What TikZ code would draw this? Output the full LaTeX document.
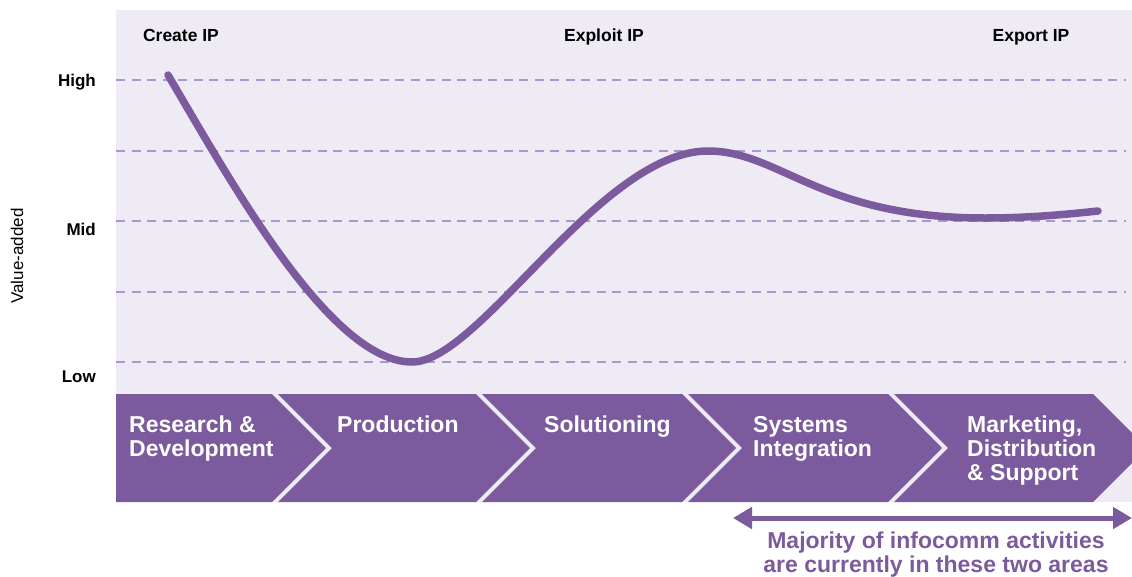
\documentclass[tikz,border=0pt]{standalone}
\usepackage{fontspec}
\setmainfont{Liberation Sans}
\usetikzlibrary{arrows.meta}
\definecolor{vpurple}{HTML}{7B5B9E}
\definecolor{panelbg}{HTML}{EFEBF4}
\definecolor{gridc}{HTML}{AC96CE}
\tikzset{
  gridline/.style={gridc, line width=1.1pt, dash pattern=on 9pt off 6.5pt},
  chevron/.style={fill=vpurple},
  steplabel/.style={text=white, font=\fontsize{23}{24}\selectfont\bfseries, align=left, anchor=base west, inner sep=0pt},
  phaselabel/.style={font=\fontsize{17.5}{20}\selectfont\bfseries, anchor=base, inner sep=0pt},
  levellabel/.style={font=\fontsize{17}{20}\selectfont\bfseries, anchor=east, inner sep=0pt},
  curve/.style={vpurple, line width=7.5pt, line cap=round},
  span/.style={vpurple, line width=5pt, {Triangle[length=19pt,width=21pt]}-{Triangle[length=19pt,width=21pt]}},
}
\begin{document}
\begin{tikzpicture}[x=1pt,y=-1pt]
\useasboundingbox (0,0) rectangle (1132,576);
\clip (0,0) rectangle (1132,576);

% chart panel
\fill[panelbg] (116,10) rectangle (1132,502);

% value levels
\foreach \y in {80,151,221,292,362}
  \draw[gridline] (116,\y) -- (1126,\y);

% value chain stages
\fill[chevron] (116,394) -- (272,394) -- (326,448) -- (272,502) -- (116,502) -- cycle;
\foreach \l/\r in {278/476, 482/682, 688/888, 894/1093}
  \fill[chevron] (\l,394) -- (\r,394) -- (\r+54,448) -- (\r,502) -- (\l,502) -- (\l+54,448) -- cycle;

% multi-line labels are anchored at the baseline of their last line
\node[steplabel] (rd)  at (129,456) {Research \&\\Development};
\node[steplabel] (pr)  at (337,432) {Production};
\node[steplabel] (so)  at (544,432) {Solutioning};
\node[steplabel] (si)  at (753,456) {Systems\\Integration};
\node[steplabel] (mds) at (967,480) {Marketing,\\Distribution\\\& Support};

% phases
\node[phaselabel] (create)  at (181,41) {Create IP};
\node[phaselabel] (exploit) at (604,41) {Exploit IP};
\node[phaselabel] (export)  at (1031,41) {Export IP};

% axis
\node[levellabel] (high) at (96,82) {High};
\node[levellabel] (mid)  at (96,229) {Mid};
\node[levellabel] (low)  at (96,377) {Low};
\node[font=\fontsize{17}{20}\selectfont, rotate=90, inner sep=0pt] (axis) at (17,256) {Value-added};

% smile curve
\draw[curve] (168,75) .. controls (230,180) and (330,362) .. (412,362)
  .. controls (480,362) and (600,151) .. (708,151)
  .. controls (780,151) and (820,218) .. (985,218)
  .. controls (1030,218) and (1070,214) .. (1098,211);

% span of the last two stages
\coordinate (spanL) at (733,518);
\coordinate (spanR) at (1132,518);
\draw[span] (spanL) -- (spanR);
\node[font=\fontsize{23}{24}\selectfont\bfseries, text=vpurple, align=center, anchor=base, inner sep=0pt] (note) at (936,572)
  {Majority of infocomm activities\\are currently in these two areas};
\end{tikzpicture}
\end{document}
